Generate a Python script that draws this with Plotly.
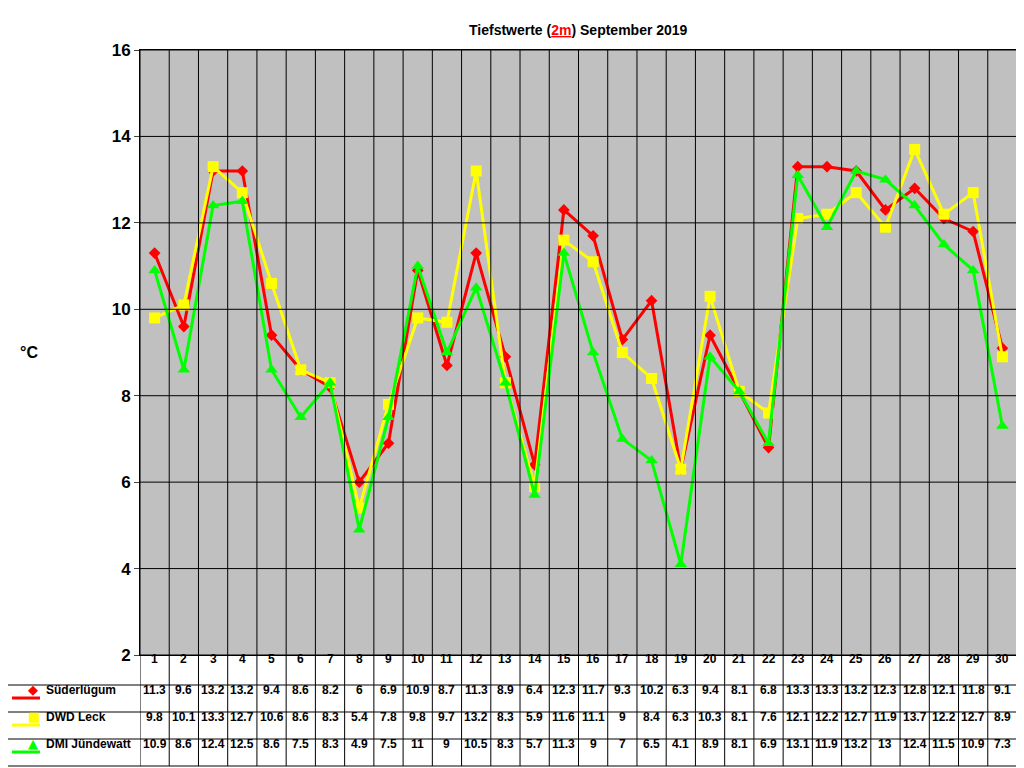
import plotly.graph_objects as go

days = list(range(1, 31))
sued = [11.3,9.6,13.2,13.2,9.4,8.6,8.2,6,6.9,10.9,8.7,11.3,8.9,6.4,12.3,11.7,9.3,10.2,6.3,9.4,8.1,6.8,13.3,13.3,13.2,12.3,12.8,12.1,11.8,9.1]
dwd = [9.8,10.1,13.3,12.7,10.6,8.6,8.3,5.4,7.8,9.8,9.7,13.2,8.3,5.9,11.6,11.1,9,8.4,6.3,10.3,8.1,7.6,12.1,12.2,12.7,11.9,13.7,12.2,12.7,8.9]
dmi = [10.9,8.6,12.4,12.5,8.6,7.5,8.3,4.9,7.5,11,9,10.5,8.3,5.7,11.3,9,7,6.5,4.1,8.9,8.1,6.9,13.1,11.9,13.2,13,12.4,11.5,10.9,7.3]
names = ["Süderlügum", "DWD Leck", "DMI Jündewatt"]
colors = ["#FF0000", "#FFFF00", "#00FF00"]
symbols = ["diamond", "square", "triangle-up"]
series = [sued, dwd, dmi]
yticks = list(range(2, 17, 2))

O = 8  # page offset
W, H = 1016, 760
L, T = 140 - O, 50 - O
R = W - (1017 - O)
B = H - (655 - O)
PH = H - T - B
PW = W - L - R
def py(p):
    return (H - B - (p - O)) / PH
def px(p):
    return ((p - O) - L) / PW

fig = go.Figure()
for s, n, c, m, sz in zip(series, names, colors, symbols, [9, 11, 11]):
    fig.add_trace(go.Scatter(x=days, y=s, name=n, mode="lines+markers",
                             line=dict(color=c, width=3),
                             marker=dict(symbol=m, size=sz, color=c), showlegend=False))

shapes = []
ann = []
F = dict(family="Arial", size=12, color="black")
for k in range(0, 31):
    shapes.append(dict(type="line", xref="x", yref="paper", x0=k+0.5, x1=k+0.5,
                       y0=py(766), y1=1, line=dict(color="black", width=1)))
for v in yticks:
    shapes.append(dict(type="line", xref="paper", yref="y", x0=0, x1=1, y0=v, y1=v,
                       line=dict(color="black", width=1)))
for r in [685, 712, 739, 766]:
    shapes.append(dict(type="line", xref="paper", yref="paper", x0=px(5), x1=1,
                       y0=py(r), y1=py(r), line=dict(color="black", width=1)))
shapes.append(dict(type="line", xref="paper", yref="paper", x0=px(5), x1=px(5),
                   y0=py(685), y1=py(766), line=dict(color="black", width=1)))
for d in days:
    ann.append(dict(x=d, y=py(668), xref="x", yref="paper", text=f"<b>{d}</b>",
                    showarrow=False, font=F))
for s, n, c, m, yc in zip(series, names, colors, ["◆", "■", "▲"], [699, 726, 753]):
    for d, v in zip(days, s):
        ann.append(dict(x=d, y=py(yc), xref="x", yref="paper", text=f"<b>{v:g}</b>",
                        showarrow=False, font=F))
    shapes.append(dict(type="line", xref="paper", yref="paper", x0=px(12), x1=px(40),
                       y0=py(yc - 1), y1=py(yc - 1), line=dict(color=c, width=3)))
    ann.append(dict(x=px(26), y=py(yc), xref="paper", yref="paper", text=m,
                    showarrow=False, font=dict(family="DejaVu Sans", size=13, color=c)))
    ann.append(dict(x=px(44), y=py(yc), xref="paper", yref="paper", text=f"<b>{n}</b>",
                    showarrow=False, xanchor="left", font=F))
ann.append(dict(x=px(18), y=py(352), xref="paper", yref="paper", text="<b>°C</b>",
                showarrow=False, font=dict(family="Arial", size=16, color="black")))
ann.append(dict(x=0.5, y=py(20), xref="paper", yref="paper",
                text="<b>Tiefstwerte (<span style='color:red'><u>2m</u></span>) September 2019</b>",
                showarrow=False, font=dict(family="Arial", size=14, color="black")))

fig.update_layout(
    width=W, height=H, margin=dict(l=L, r=R, t=T, b=B, pad=0),
    paper_bgcolor="white", plot_bgcolor="#C0C0C0",
    xaxis=dict(range=[0.5, 30.5], showticklabels=False, showgrid=False, zeroline=False,
               showline=True, linecolor="black", mirror=True),
    yaxis=dict(range=[2, 16], tickvals=yticks, ticktext=[f"<b>{v}</b>" for v in yticks],
               showgrid=False, zeroline=False,
               showline=True, linecolor="black", mirror=True, ticks="outside", ticklen=5,
               tickfont=dict(family="Arial", size=17, color="black")),
    shapes=shapes, annotations=ann,
)
fig.write_html("out.html")
